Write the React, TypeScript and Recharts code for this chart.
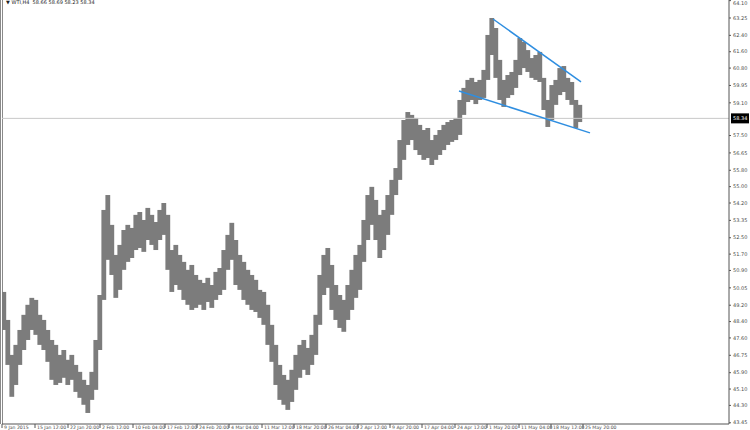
import { ComposedChart, Bar, XAxis, YAxis, ReferenceLine } from "recharts";

// WTI H4 bars — each entry folds a few 4-hour bars into one high/low range.
const highs = [
  49.85, 48.48, 46.77, 47.26, 47.99, 48.73, 49.22, 49.56, 49.46, 48.73,
  48.48, 47.99, 47.5, 47.26, 46.77, 47.01, 46.53, 46.77, 46.28, 45.94,
  45.55, 45.3, 45.94, 47.5, 49.7, 53.86, 54.59, 53.13, 51.66, 52.15,
  52.88, 53.13, 52.98, 53.62, 53.76, 53.37, 53.96, 53.62, 53.27, 53.86,
  54.2, 53.62, 51.9, 52.15, 51.66, 51.32, 50.93, 51.17, 50.68, 50.44,
  50.29, 50.54, 50.19, 50.83, 51.02, 51.9, 52.64, 53.23, 52.39, 51.66,
  51.32, 50.93, 50.68, 50.44, 49.95, 49.85, 49.22, 48.24, 47.26, 46.28,
  45.79, 45.55, 46.04, 46.77, 47.26, 47.5, 47.11, 47.75, 48.73, 50.68,
  51.66, 52.0, 51.17, 50.19, 49.7, 49.46, 50.19, 50.93, 51.66, 52.15,
  53.37, 54.59, 54.99, 54.35, 53.62, 53.86, 54.59, 55.33, 55.91, 57.28,
  58.26, 58.65, 58.51, 58.36, 58.02, 57.77, 57.87, 57.28, 57.53, 57.77,
  58.02, 58.16, 58.26, 58.36, 59.24, 59.83, 60.22, 60.32, 60.12, 60.22,
  60.71, 62.42, 63.25, 62.76, 61.2, 60.22, 60.46, 60.61, 61.2, 62.27,
  62.08, 61.68, 61.29, 61.44, 61.59, 60.32, 59.24, 59.97, 60.22, 60.8,
  60.9, 60.32, 60.12, 59.24, 59.0,
];
const lows = [
  47.99, 46.28, 44.72, 45.3, 46.28, 47.01, 47.5, 47.99, 47.75, 47.26,
  47.01, 46.43, 45.55, 45.3, 45.4, 45.65, 45.3, 45.55, 44.96, 44.67,
  44.33, 43.93, 44.57, 45.06, 47.01, 49.46, 51.42, 50.68, 49.56, 49.95,
  50.93, 51.32, 51.51, 51.9, 52.0, 51.81, 52.39, 52.15, 51.9, 52.39,
  52.64, 50.93, 49.85, 50.19, 49.95, 49.46, 49.22, 48.97, 49.07, 49.22,
  48.97, 49.36, 49.07, 49.46, 49.7, 49.95, 50.93, 51.42, 50.19, 49.95,
  49.46, 49.22, 48.97, 48.87, 48.58, 48.24, 47.26, 46.43, 45.3, 44.57,
  44.33, 44.08, 44.47, 45.06, 45.65, 46.04, 45.79, 46.28, 46.77, 48.24,
  49.7, 50.05, 48.97, 48.48, 48.09, 47.9, 48.48, 48.97, 49.56, 49.95,
  51.32, 52.39, 53.13, 52.39, 51.51, 51.9, 52.64, 53.62, 54.59, 55.33,
  56.31, 57.04, 57.28, 56.79, 56.55, 56.31, 56.4, 56.06, 56.31, 56.55,
  56.79, 57.04, 57.19, 57.28, 57.53, 58.51, 59.14, 59.24, 59.04, 59.24,
  59.34, 60.22, 61.44, 60.32, 59.24, 58.9, 59.34, 59.48, 59.83, 60.46,
  60.8, 60.61, 60.32, 60.22, 60.12, 58.75, 57.92, 58.26, 59.0, 59.48,
  59.63, 59.24, 59.0, 57.87, 58.16,
];

const priceTicks = [
  43.45, 44.3, 45.1, 45.9, 46.75, 47.6, 48.4, 49.2, 50.05, 50.9, 51.7, 52.5,
  53.35, 54.2, 55.0, 55.8, 56.65, 57.5, 59.1, 59.95, 60.8, 61.6, 62.4, 63.25,
  64.1,
];
const dateTickPos = [
  -0.5, 7.75, 16, 24, 32.25, 40.25, 48.25, 56.25, 64.5, 72.5, 80.5, 88.5,
  96.5, 104.5, 112.75, 120.75, 128.75, 136.75, 144.75,
];
const dateLabels = [
  "9 Jan 2015", "15 Jan 12:00", "22 Jan 20:00", "2 Feb 12:00", "10 Feb 04:00",
  "17 Feb 12:00", "24 Feb 20:00", "4 Mar 04:00", "11 Mar 12:00", "18 Mar 20:00",
  "26 Mar 04:00", "2 Apr 12:00", "9 Apr 20:00", "17 Apr 04:00", "24 Apr 12:00",
  "1 May 20:00", "11 May 04:00", "18 May 12:00", "25 May 20:00",
];

const lastPrice = 58.34;
const upperLine = [
  { x: 122.25, y: 63.2 },
  { x: 144.25, y: 60.12 },
];
const lowerLine = [
  { x: 113.75, y: 59.68 },
  { x: 146.5, y: 57.63 },
];

const data = highs.map((h, i) => ({ i, high: h, low: lows[i] }));

const FONT = "'DejaVu Sans', Tahoma, sans-serif";
const TEXT = "#4a4a4a";
const BAR = "#7c7c7c";

function DateTick({ x, y, payload }: any) {
  const k = dateTickPos.indexOf(payload.value);
  return (
    <g>
      <line x1={x} x2={x} y1={y - 8} y2={y - 4} stroke="#555" />
      <text x={x + 2} y={y - 3} fontSize={4.6} fill={TEXT} fontFamily={FONT}>
        {dateLabels[k]}
      </text>
    </g>
  );
}

// price labels; the top one is nudged down so it isn't clipped
function PriceTick({ x, y, payload }: any) {
  return (
    <text x={x} y={Math.max(y, 3.5) + 1.7} fontSize={5} fill={TEXT} fontFamily={FONT}>
      {Number(payload.value).toFixed(2)}
    </text>
  );
}

// high-low range drawn a touch wider than its slot so neighbours merge
function RangeBar({ x, y, width, height }: any) {
  const cx = x + width / 2;
  return <rect x={cx - 2.4} y={y} width={4.8} height={Math.max(height, 1)} fill={BAR} />;
}

function PriceTag({ viewBox }: any) {
  const x = viewBox.x + viewBox.width + 2;
  const y = viewBox.y;
  return (
    <g>
      <rect x={x} y={y - 5} width={18} height={10} fill="#000" />
      <text x={x + 2} y={y + 2} fontSize={5} fill="#fff" fontFamily={FONT}>
        {lastPrice.toFixed(2)}
      </text>
    </g>
  );
}

export default function App() {
  return (
    <div style={{ position: "absolute", left: 0, top: 0, width: 750, height: 430, background: "#fff" }}>
      <div style={{ position: "absolute", left: 0, top: 0, width: 1, height: 424, background: "#8a8a8a" }} />
      <div style={{ position: "absolute", left: 2, top: 0, width: 1, height: 424, background: "#8a8a8a" }} />
      <div
        style={{
          position: "absolute",
          left: 6,
          top: -1,
          fontSize: 5,
          fontFamily: FONT,
          color: "#222",
          whiteSpace: "nowrap",
        }}
      >
        ▼ WTI,H4&nbsp; 58.66 58.69 58.23 58.34
      </div>
      <ComposedChart
        width={750}
        height={430}
        data={data}
        margin={{ top: 0, right: 0, bottom: 0, left: 2 }}
      >
        <XAxis
          dataKey="i"
          type="number"
          domain={[-0.5, 181.25]}
          allowDataOverflow
          ticks={dateTickPos}
          interval={0}
          height={6}
          tickLine={false}
          tick={<DateTick />}
          axisLine={{ stroke: "#555" }}
        />
        <YAxis
          orientation="right"
          domain={[43.39, 64.13]}
          allowDataOverflow
          ticks={priceTicks}
          interval={0}
          width={21}
          tickSize={2}
          tickLine={{ stroke: "#555" }}
          axisLine={{ stroke: "#555" }}
          tick={<PriceTick />}
        />
        <ReferenceLine y={lastPrice} stroke="#c8c8c8" label={<PriceTag />} />
        <Bar
          dataKey={(d: any) => [d.low, d.high]}
          barSize={4}
          fill={BAR}
          shape={<RangeBar />}
          isAnimationActive={false}
        />
        <ReferenceLine segment={upperLine} stroke="#2f8ee0" strokeWidth={1.5} ifOverflow="extendDomain" />
        <ReferenceLine segment={lowerLine} stroke="#2f8ee0" strokeWidth={1.5} ifOverflow="extendDomain" />
      </ComposedChart>
    </div>
  );
}
